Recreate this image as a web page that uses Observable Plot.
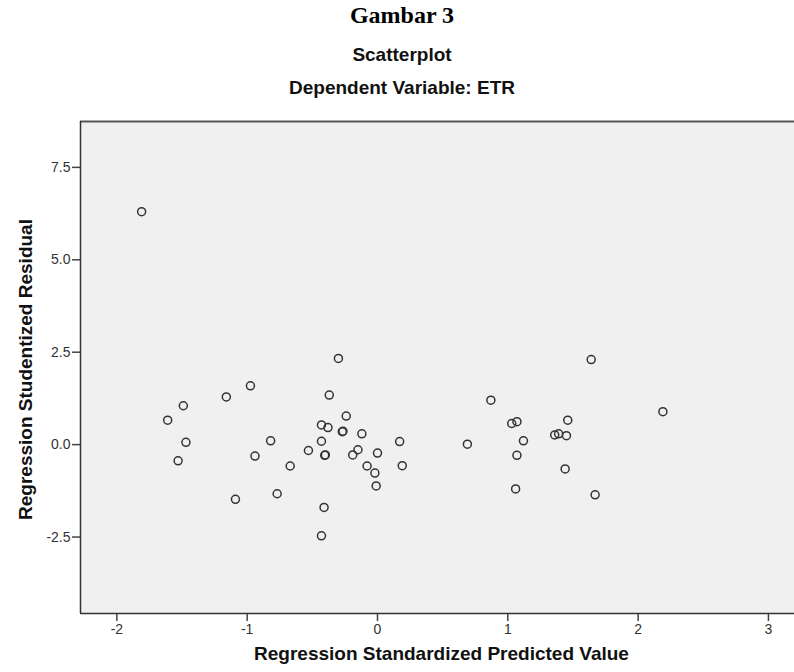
<!DOCTYPE html>
<html>
<head>
<meta charset="utf-8">
<script src="https://cdn.jsdelivr.net/npm/d3@7"></script>
<script src="https://cdn.jsdelivr.net/npm/@observablehq/plot@0.6"></script>
<style>
  html, body { margin: 0; padding: 0; background: #ffffff; }
  #wrap { position: relative; width: 794px; height: 672px; overflow: hidden; }
  .t { position: absolute; left: 0; width: 804px; text-align: center; line-height: 1; white-space: nowrap; color: #000; }
  #t1 { top: 3px; font-family: "Liberation Serif", "Times New Roman", serif; font-weight: bold; font-size: 24px; }
  #t2 { top: 45px; font-family: "Liberation Sans", Arial, sans-serif; font-weight: bold; font-size: 19px; color: #111; }
  #t3 { top: 78px; font-family: "Liberation Sans", Arial, sans-serif; font-weight: bold; font-size: 19px; color: #111; }
  #chart { position: absolute; left: 0; top: 100px; }
</style>
</head>
<body>
<div id="wrap">
  <div class="t" id="t1">Gambar 3</div>
  <div class="t" id="t2">Scatterplot</div>
  <div class="t" id="t3">Dependent Variable: ETR</div>
  <div id="chart"></div>
</div>
<script>
const xLabel = "Regression Standardized Predicted Value";
const yLabel = "Regression Studentized Residual";
const xTicks = [-2, -1, 0, 1, 2, 3];
const yTicks = [-2.5, 0, 2.5, 5, 7.5];

const predicted = [-1.81, -0.975, -1.16, -1.49, -1.61, -1.47, -1.53, -0.82, -0.94, -0.67, -0.77, -1.09,
  -0.30, -0.37, -0.24, -0.43, -0.38, -0.27, -0.265, -0.12, -0.43, 0.17, -0.53, -0.15, -0.19, -0.40, -0.405,
  0.00, -0.08, 0.19, -0.02, -0.01, -0.41, -0.43, 0.69, 0.87, 1.64, 2.19, 1.03, 1.07, 1.46, 1.36, 1.39, 1.45,
  1.12, 1.07, 1.44, 1.06, 1.67];
const residual = [6.22, 1.51, 1.21, 0.97, 0.58, -0.02, -0.52, 0.02, -0.39, -0.66, -1.41, -1.56,
  2.25, 1.26, 0.69, 0.45, 0.38, 0.27, 0.28, 0.21, 0.01, 0.00, -0.24, -0.22, -0.36, -0.36, -0.37,
  -0.31, -0.66, -0.65, -0.85, -1.20, -1.78, -2.55, -0.07, 1.12, 2.22, 0.81, 0.49, 0.54, 0.58, 0.18, 0.21, 0.16,
  0.02, -0.37, -0.74, -1.28, -1.44];

const xDomain = [-2.279, 3.2];
const yDomain = [-4.65, 8.66];

const points = predicted.map((p, i) => ({x: p, y: residual[i]}));

const chart = Plot.plot({
  width: 794,
  height: 572,
  marginLeft: 80,
  marginRight: 0,
  marginTop: 21,
  marginBottom: 59,
  style: {fontFamily: "'Liberation Sans', Arial, sans-serif", fontSize: "14px", color: "#333", background: "transparent"},
  x: {domain: xDomain, label: null},
  y: {domain: yDomain, label: null},
  marks: [
    Plot.frame({fill: "#f0f0f0", stroke: null}),
    Plot.axisX({ticks: xTicks, tickSize: 8, tickPadding: 3, tickFormat: d => String(d), label: null, fontSize: 14, strokeWidth: 1.5, stroke: "#444", fill: "#333"}),
    Plot.axisY({ticks: yTicks, tickSize: 8, tickPadding: 2, tickFormat: d => d.toFixed(1), label: null, fontSize: 14, strokeWidth: 1.5, stroke: "#444", fill: "#333", dy: 3}),
    Plot.ruleY([yDomain[1]], {stroke: "#555", strokeWidth: 2}),
    Plot.ruleY([yDomain[0]], {stroke: "#333", strokeWidth: 1.5}),
    Plot.ruleX([xDomain[0]], {stroke: "#333", strokeWidth: 1.5}),
    Plot.dot(points, {x: "x", y: "y", r: 4, stroke: "#333", strokeWidth: 1.5, fill: "none"}),
    Plot.text([yLabel], {text: d => d, frameAnchor: "left", textAnchor: "middle", rotate: -90, dx: -55, dy: 2, fontSize: 19, fontWeight: "bold", fill: "#111"}),
    Plot.text([xLabel], {text: d => d, frameAnchor: "bottom", textAnchor: "middle", dx: 4, dy: 46, fontSize: 19, fontWeight: "bold", fill: "#111"})
  ]
});
document.getElementById("chart").appendChild(chart);
</script>
</body>
</html>
